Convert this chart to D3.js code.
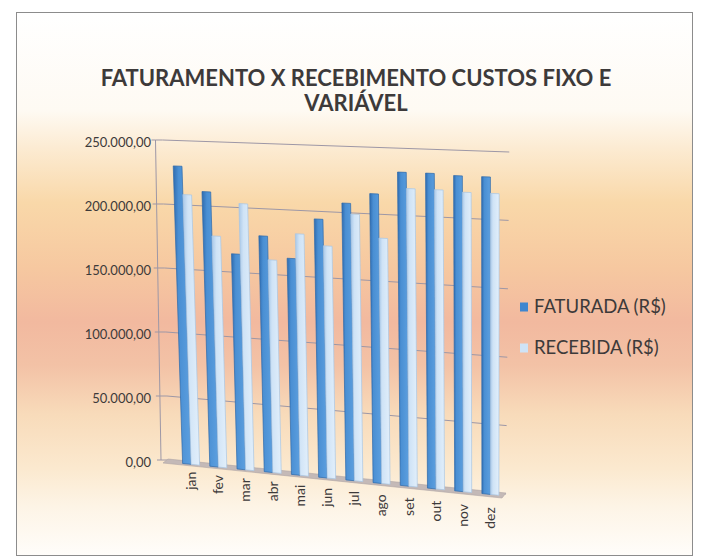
<!DOCTYPE html>
<html lang="pt">
<head>
<meta charset="UTF-8">
<title>Faturamento x Recebimento</title>
<script src="https://d3js.org/d3.v7.min.js"></script>
<style>
  body { margin: 0; background: #fff; }
  text { font-family: Lato, "Open Sans", sans-serif; fill: #3d3a3a; }
</style>
</head>
<body>
<svg id="drawing_pad" width="706" height="560"></svg>
<script>
// data
const months = ["jan", "fev", "mar", "abr", "mai", "jun", "jul", "ago", "set", "out", "nov", "dez"];
const seriesNames = ["FATURADA (R$)", "RECEBIDA (R$)"];
const faturada = [231000, 212000, 165000, 180000, 164000, 195000, 208000, 216000, 233000, 233000, 232000, 232000];
const recebida = [209000, 178000, 204000, 162000, 183000, 175000, 200000, 183000, 221000, 221000, 220000, 220000];
const yTicks = [0, 50000, 100000, 150000, 200000, 250000];
const titleLines = ["FATURAMENTO X RECEBIMENTO CUSTOS FIXO E", "VARIÁVEL"];

const svg = d3.select("#drawing_pad");
const fmt = d3.formatLocale({decimal: ",", thousands: ".", grouping: [3], currency: ["R$", ""]}).format(",.2f");

// background gradient of the chart area
let defs = svg.append("defs");
let bg = defs.append("linearGradient").attr("id", "bg").attr("x1", 0).attr("y1", 0).attr("x2", 0).attr("y2", 1);
[[0, "#ffffff"], [0.18, "#fefaf3"], [0.25, "#fcebd2"], [0.35, "#f9d8a9"], [0.47, "#f6c8a0"],
 [0.57, "#f2b99f"], [0.65, "#f3c2a6"], [0.74, "#f8dbba"], [0.84, "#fbe9cf"], [0.91, "#fdf4e6"], [1, "#fffdfa"]]
  .forEach(function(s) { bg.append("stop").attr("offset", s[0]).attr("stop-color", s[1]); });

function barGrad(id, c1, c2, c3) {
  let g = defs.append("linearGradient").attr("id", id).attr("x1", 0).attr("x2", 1).attr("y1", 0).attr("y2", 0);
  g.append("stop").attr("offset", 0).attr("stop-color", c1);
  g.append("stop").attr("offset", 0.3).attr("stop-color", c2);
  g.append("stop").attr("offset", 1).attr("stop-color", c3);
}
barGrad("g0", "#2f6cb0", "#4a8fd3", "#5c9fdf");
barGrad("g1", "#a9c8e8", "#cfe3f6", "#e2effb");

svg.append("rect").attr("x", 16.5).attr("y", 12.5).attr("width", 676).attr("height", 543)
  .attr("fill", "url(#bg)").attr("stroke", "#8c8c8c");

// title
svg.selectAll(".title").data(titleLines).enter().append("text")
  .attr("class", "title")
  .attr("x", 356).attr("y", function(d, i) { return 86 + i * 25; })
  .attr("text-anchor", "middle").attr("font-size", 22).attr("font-weight", "bold")
  .text(function(d) { return d; });

// 3d-ish geometry: floor line, wall height and lean of verticals
const t = d3.scaleLinear().domain([0, 250000]).range([0, 1]);
const floorY = d3.scaleLinear().domain([168, 506]).range([460, 494]);
const wallH = d3.scaleLinear().domain([168, 506]).range([320, 342]);
const wallX = d3.scaleLinear().domain([0, 1]).range([168, 506]);
const labelY = d3.scaleLinear().domain([168, 506]).range([469, 509]);

function proj(xb, v, k, vp) {
  let f = t(v);
  return [xb + f * k * (xb - vp), floorY(xb) - f * wallH(xb)];
}
function wallPt(u, v) { return proj(wallX(u), v, 0.026, 380); }

// gridlines: side wall bit then back wall
let grid = svg.append("g");
yTicks.forEach(function(v) {
  let a = wallPt(0, v), b = wallPt(1, v);
  grid.append("polyline")
    .attr("points", [[a[0] - 7, a[1]], a, b].join(" "))
    .attr("fill", "none").attr("stroke", "#9d97a6").attr("stroke-width", 1);
});

// value axis
let a0 = wallPt(0, 0), a1 = wallPt(0, 250000);
svg.append("line").attr("x1", a0[0] - 7).attr("y1", a0[1]).attr("x2", a1[0] - 7).attr("y2", a1[1])
  .attr("stroke", "#9d97a6");
svg.selectAll(".tick").data(yTicks).enter().append("line")
  .attr("x1", function(d) { return wallPt(0, d)[0] - 11; })
  .attr("x2", function(d) { return wallPt(0, d)[0] - 7; })
  .attr("y1", function(d) { return wallPt(0, d)[1]; })
  .attr("y2", function(d) { return wallPt(0, d)[1]; })
  .attr("stroke", "#9d97a6");
svg.selectAll(".ylab").data(yTicks).enter().append("text")
  .attr("x", 151).attr("y", function(d) { return wallPt(0, d)[1] + 2; })
  .attr("dy", "0.35em").attr("text-anchor", "end").attr("font-size", 13)
  .text(function(d) { return fmt(d); });

// floor
let fl = [[168, floorY(168) - 1], [506, floorY(506) - 1], [502, floorY(506) + 4], [163, floorY(168) + 3]];
svg.append("polygon").attr("points", fl.join(" "))
  .attr("fill", "#c4b9b7").attr("stroke", "#b0a6a6").attr("stroke-width", 0.6);

// bars
const x = d3.scaleBand().domain(months).range([177.5, 504]);
const xs = d3.scaleBand().domain(seriesNames).range([0, x.bandwidth()]).paddingOuter(0.6);

let rows = [];
months.forEach(function(m, i) {
  rows.push({m: m, s: 0, v: faturada[i]});
  rows.push({m: m, s: 1, v: recebida[i]});
});

svg.append("g").selectAll("polygon").data(rows).enter().append("polygon")
  .attr("points", function(d) {
    let x0 = x(d.m) + xs(seriesNames[d.s]), x1 = x0 + xs.bandwidth();
    let b0 = [x0, floorY(x0) + 2], b1 = [x1, floorY(x1) + 2];
    let t0 = proj(x0, d.v, 0.033, 490), t1 = proj(x1, d.v, 0.033, 490);
    t0[1] += 1; t1[1] += 1;
    return [b0, b1, t1, t0].join(" ");
  })
  .attr("fill", function(d) { return "url(#g" + d.s + ")"; })
  .attr("stroke", function(d) { return d.s == 0 ? "#2d69ab" : "#a7c6e4"; })
  .attr("stroke-width", 0.7);

// category labels
svg.selectAll(".xlab").data(months).enter().append("text")
  .attr("transform", function(d) {
    let c = x(d) + x.bandwidth() / 2;
    return "translate(" + c + "," + labelY(c) + ") rotate(-90)";
  })
  .attr("dy", "0.35em").attr("text-anchor", "end").attr("font-size", 14)
  .text(function(d) { return d; });

// legend
let leg = svg.selectAll(".leg").data(seriesNames).enter().append("g")
  .attr("transform", function(d, i) { return "translate(520," + (307 + i * 41) + ")"; });
leg.append("rect").attr("x", 0).attr("y", -4.5).attr("width", 8).attr("height", 9)
  .attr("fill", function(d, i) { return i == 0 ? "#3f86cf" : "#cfe3f6"; });
leg.append("text").attr("x", 14).attr("dy", "0.35em").attr("font-size", 18.5)
  .text(function(d) { return d; });
</script>
</body>
</html>
